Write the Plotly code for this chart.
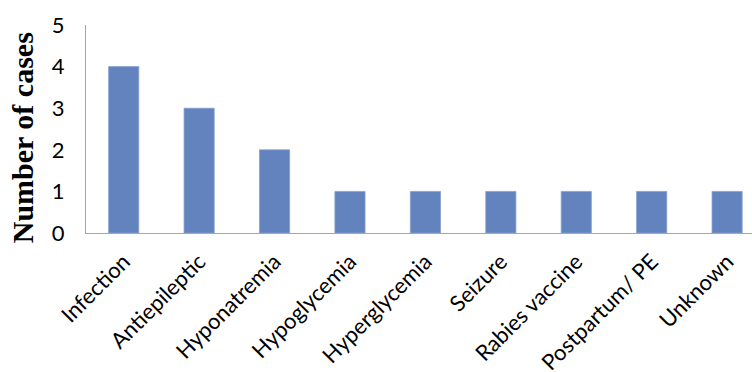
import plotly.graph_objects as go

# Causes and number of cases
causes = ["Infection", "Antiepileptic", "Hyponatremia", "Hypoglycemia", "Hyperglycemia",
          "Seizure", "Rabies vaccine", "Postpartum/ PE", "Unknown"]
cases = [4, 3, 2, 1, 1, 1, 1, 1, 1]
y_ticks = [0, 1, 2, 3, 4, 5]

W, H = 752, 372
L, R, T, B = 85.5, 0, 24.5, 139
plot_w = W - L - R
plot_h = H - T - B

fig = go.Figure(go.Bar(
    x=causes, y=cases,
    marker=dict(color="#6383BF", line=dict(width=0.8, color="#86A0D2")),
    width=0.4,
))

fig.update_layout(
    width=W, height=H,
    margin=dict(l=L, r=R, t=T, b=B, pad=0, autoexpand=False),
    paper_bgcolor="white", plot_bgcolor="white",
    showlegend=False,
    font=dict(family="Lato, Open Sans, sans-serif", color="#000000"),
)

fig.update_xaxes(
    type="category",
    range=[-0.5, 8.33],
    automargin=False,
    tickangle=-45,
    tickfont=dict(size=22, family="Lato, Open Sans, sans-serif", color="#000000"),
    showline=True, linecolor="#A6A6A6", linewidth=1.2,
    showgrid=False, ticks="", ticklabelstandoff=6,
)

fig.update_yaxes(
    range=[0, 5],
    automargin=False,
    tickvals=y_ticks,
    tickfont=dict(size=22, family="Lato, Open Sans, sans-serif", color="#000000"),
    showline=True, linecolor="#A6A6A6", linewidth=1.2,
    showgrid=False, ticks="", ticklabelstandoff=16,
    zeroline=False,
)

fig.add_annotation(
    text="<b>Number of cases</b>",
    xref="paper", yref="paper",
    x=(22 - L) / plot_w, y=(233 - 137.5) / plot_h,
    xanchor="center", yanchor="middle",
    textangle=-90, showarrow=False,
    font=dict(family="Liberation Serif, Times New Roman, serif", size=30, color="#000000"),
)

fig.write_html("out.html")
